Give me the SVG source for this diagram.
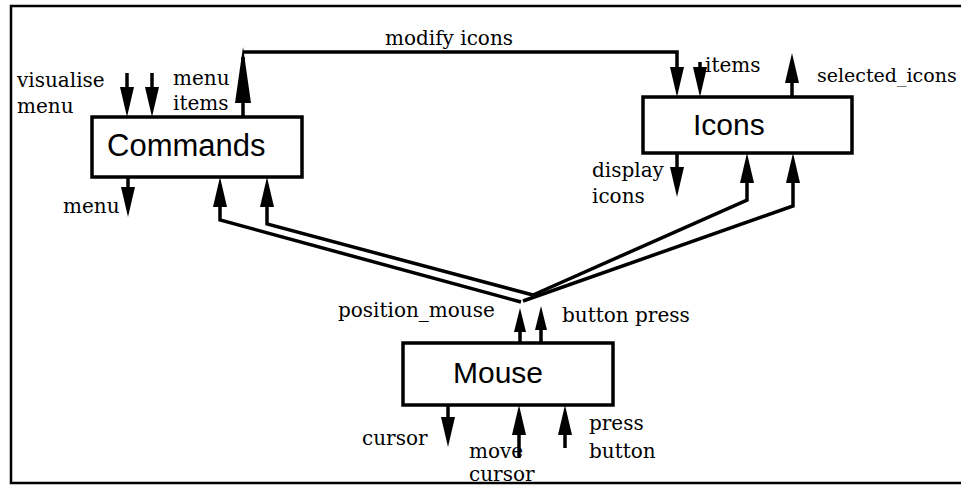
<svg xmlns="http://www.w3.org/2000/svg" width="961" height="494" viewBox="0 0 961 494">
  <style>
    .box { fill: #fff; stroke: #000; stroke-width: 3.5; }
    .title { font-family: "Liberation Sans", Arial, sans-serif; font-size: 30px; fill: #000; }
    .lbl { font-family: "DejaVu Serif", "Liberation Serif", serif; font-size: 20px; fill: #000; }
    .flow { fill: none; stroke: #000; stroke-width: 3.5; stroke-linejoin: miter; }
    .frame { fill: none; stroke: #000; stroke-width: 2.5; }
  </style>
  <defs>
    <!-- line ends 10px short of the tip so the stem hides inside the head -->
    <marker id="head" markerUnits="userSpaceOnUse" viewBox="0 0 30 14" refX="20" refY="7" markerWidth="30" markerHeight="14" orient="auto">
      <path d="M0,0 L30,7 L0,14 z" fill="#000"/>
    </marker>
    <marker id="headSmall" markerUnits="userSpaceOnUse" viewBox="0 0 24 12" refX="14" refY="6" markerWidth="24" markerHeight="12" orient="auto">
      <path d="M0,0 L24,6 L0,12 z" fill="#000"/>
    </marker>
    <marker id="headLong" markerUnits="userSpaceOnUse" viewBox="0 0 56 16" refX="46" refY="8" markerWidth="56" markerHeight="16" orient="auto">
      <path d="M0,0 L56,8 L0,16 z" fill="#000"/>
    </marker>
  </defs>

  <rect width="961" height="494" fill="#fff"/>

  <!-- outer frame: top, left and bottom rules -->
  <path class="frame" d="M961,6 H11 V483 H961"/>

  <g id="connectors">
    <!-- inputs to Commands -->
    <path class="flow" d="M127,73 V107" marker-end="url(#head)"/>
    <path class="flow" d="M152,73 V107" marker-end="url(#head)"/>
    <!-- menu items out of Commands -->
    <path class="flow" d="M243,117 V57" marker-end="url(#headLong)"/>
    <!-- modify icons into Icons -->
    <path class="flow" d="M243,52 H677 V87" marker-end="url(#head)"/>
    <!-- menu out of Commands -->
    <path class="flow" d="M128,177 V207" marker-end="url(#head)"/>

    <!-- items into Icons, selected_icons and display icons out -->
    <path class="flow" d="M700,62 V87" marker-end="url(#head)"/>
    <path class="flow" d="M792,97 V63" marker-end="url(#head)"/>
    <path class="flow" d="M677,153 V187" marker-end="url(#head)"/>

    <!-- Mouse outputs fanning out to Commands and Icons -->
    <path class="flow" d="M521,302 L220,220 V187" marker-end="url(#head)"/>
    <path class="flow" d="M533,295 L267,224 V187" marker-end="url(#head)"/>
    <path class="flow" d="M533,295 L747,200 V163" marker-end="url(#head)"/>
    <path class="flow" d="M523,301 L793,206 V163" marker-end="url(#head)"/>
    <path class="flow" d="M520,343 V318" marker-end="url(#headSmall)"/>
    <path class="flow" d="M541,343 V316" marker-end="url(#headSmall)"/>

    <!-- Mouse bottom: cursor out, move cursor and press button in -->
    <path class="flow" d="M448,405 V437" marker-end="url(#head)"/>
    <path class="flow" d="M519,458 V415" marker-end="url(#head)"/>
    <path class="flow" d="M565,448 V415" marker-end="url(#head)"/>
  </g>

  <g id="commands">
    <rect class="box" x="92" y="117" width="210" height="60"/>
    <text class="title" x="107" y="156" style="font-size:31px">Commands</text>
  </g>

  <g id="icons">
    <rect class="box" x="643" y="97" width="209" height="56"/>
    <text class="title" x="693" y="135">Icons</text>
  </g>

  <g id="mouse">
    <rect class="box" x="403" y="343" width="210" height="62"/>
    <text class="title" x="453" y="383">Mouse</text>
  </g>

  <g id="labels">
    <text class="lbl" x="17" y="87">visualise</text>
    <text class="lbl" x="17" y="113">menu</text>
    <text class="lbl" x="173" y="85">menu</text>
    <text class="lbl" x="173" y="110">items</text>
    <text class="lbl" x="385" y="45">modify icons</text>
    <text class="lbl" x="63" y="213">menu</text>
    <text class="lbl" x="705" y="72">items</text>
    <text class="lbl" x="817" y="82" style="font-size:19px">selected_icons</text>
    <text class="lbl" x="592" y="177">display</text>
    <text class="lbl" x="592" y="203">icons</text>
    <text class="lbl" x="338" y="317">position_mouse</text>
    <text class="lbl" x="562" y="322">button press</text>
    <text class="lbl" x="362" y="445">cursor</text>
    <text class="lbl" x="469" y="458">move</text>
    <text class="lbl" x="469" y="481">cursor</text>
    <text class="lbl" x="589" y="430">press</text>
    <text class="lbl" x="589" y="458">button</text>
  </g>
</svg>
